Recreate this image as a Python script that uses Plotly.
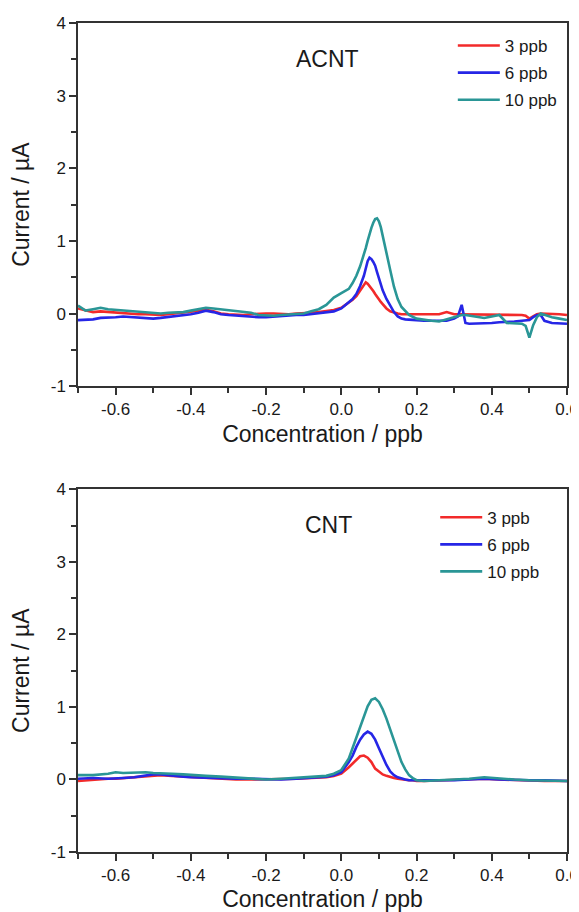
import plotly.graph_objects as go

# ---------------- data ----------------
x_top = [-0.70, -0.68, -0.66, -0.64, -0.62, -0.60, -0.58, -0.56, -0.54, -0.52,
         -0.50, -0.48, -0.46, -0.44, -0.42, -0.40, -0.38, -0.36, -0.34, -0.32,
         -0.30, -0.28, -0.26, -0.24, -0.22, -0.20, -0.18, -0.16, -0.14, -0.12,
         -0.10, -0.08, -0.06, -0.04, -0.02, 0.00, 0.02, 0.03, 0.04, 0.05,
         0.06, 0.065, 0.07, 0.075, 0.08, 0.085, 0.09, 0.095, 0.10, 0.105,
         0.11, 0.12, 0.13, 0.14, 0.15, 0.16, 0.17, 0.18, 0.20, 0.22,
         0.24, 0.26, 0.28, 0.30, 0.31, 0.32, 0.33, 0.34, 0.36, 0.38,
         0.40, 0.42, 0.44, 0.46, 0.48, 0.49, 0.50, 0.51, 0.52, 0.53,
         0.54, 0.56, 0.58, 0.60]

acnt_3ppb = [0.07, 0.04, 0.02, 0.03, 0.02, 0.02, 0.01, 0.0, -0.01, -0.01,
             -0.02, -0.02, -0.01, 0.0, 0.01, 0.02, 0.03, 0.05, 0.03, 0.0,
             -0.01, -0.02, -0.02, -0.01, 0.0, 0.0, 0.0, -0.01, -0.01, 0.0,
             0.0, 0.01, 0.02, 0.03, 0.05, 0.08, 0.15, 0.19, 0.24, 0.31,
             0.38, 0.43, 0.41, 0.38, 0.35, 0.31, 0.27, 0.23, 0.19, 0.16,
             0.13, 0.07, 0.03, 0.01, 0.0, -0.01, -0.01, -0.01, -0.01, -0.01,
             -0.01, -0.01, 0.02, -0.01, -0.01, -0.01, -0.01, -0.01, -0.01, -0.01,
             -0.01, -0.01, -0.01, -0.01, -0.02, -0.03, -0.07, -0.04, -0.01, 0.0,
             0.0, -0.01, -0.01, -0.02]

acnt_6ppb = [-0.09, -0.09, -0.08, -0.06, -0.06, -0.05, -0.04, -0.05, -0.06, -0.07,
             -0.07, -0.06, -0.05, -0.04, -0.02, -0.01, 0.01, 0.04, 0.02, -0.01,
             -0.02, -0.03, -0.04, -0.05, -0.05, -0.05, -0.04, -0.03, -0.02, -0.02,
             -0.02, -0.01, 0.0, 0.01, 0.03, 0.07, 0.15, 0.20, 0.27, 0.38,
             0.52, 0.62, 0.72, 0.77, 0.75, 0.71, 0.66, 0.57, 0.48, 0.39,
             0.32, 0.20, 0.10, 0.02, -0.04, -0.07, -0.08, -0.08, -0.09, -0.10,
             -0.10, -0.11, -0.10, -0.07, -0.04, 0.12, -0.13, -0.14, -0.14, -0.14,
             -0.13, -0.12, -0.12, -0.11, -0.10, -0.10, -0.09, -0.05, -0.02, -0.02,
             -0.10, -0.13, -0.14, -0.14]

acnt_10ppb = [0.11, 0.04, 0.06, 0.08, 0.06, 0.05, 0.04, 0.03, 0.02, 0.01,
              0.0, 0.0, 0.01, 0.01, 0.02, 0.04, 0.06, 0.08, 0.07, 0.06,
              0.05, 0.04, 0.02, 0.01, -0.02, -0.03, -0.03, -0.02, -0.01, -0.01,
              0.0, 0.03, 0.06, 0.12, 0.22, 0.28, 0.34, 0.42, 0.52, 0.65,
              0.80, 0.90, 1.00, 1.10, 1.18, 1.25, 1.30, 1.31, 1.27, 1.19,
              1.08, 0.83, 0.60, 0.37, 0.20, 0.09, 0.03, -0.02, -0.07, -0.09,
              -0.10, -0.11, -0.08, -0.05, -0.03, -0.02, -0.02, -0.03, -0.05, -0.06,
              -0.04, -0.02, -0.13, -0.14, -0.14, -0.17, -0.33, -0.16, -0.05, 0.0,
              -0.02, -0.05, -0.07, -0.09]

x_bot = [-0.70, -0.66, -0.62, -0.60, -0.58, -0.55, -0.52, -0.50, -0.48, -0.45,
         -0.42, -0.40, -0.36, -0.32, -0.28, -0.24, -0.20, -0.16, -0.12, -0.08,
         -0.04, -0.02, 0.00, 0.02, 0.03, 0.04, 0.05, 0.06, 0.07, 0.08,
         0.09, 0.10, 0.11, 0.12, 0.13, 0.14, 0.15, 0.16, 0.17, 0.18,
         0.19, 0.20, 0.22, 0.26, 0.30, 0.34, 0.38, 0.42, 0.46, 0.50,
         0.54, 0.58, 0.60]

cnt_3ppb = [-0.02, 0.0, 0.01, 0.01, 0.02, 0.03, 0.05, 0.06, 0.06, 0.05,
            0.04, 0.03, 0.02, 0.01, 0.0, 0.0, 0.0, 0.0, 0.01, 0.02,
            0.03, 0.05, 0.08, 0.17, 0.22, 0.28, 0.32, 0.33, 0.30, 0.24,
            0.15, 0.11, 0.07, 0.05, 0.03, 0.02, 0.01, 0.0, 0.0, -0.01,
            -0.01, -0.02, -0.02, -0.01, -0.01, 0.0, 0.01, 0.0, -0.01, -0.01,
            -0.02, -0.02, -0.02]

cnt_6ppb = [0.01, 0.02, 0.01, 0.01, 0.02, 0.03, 0.05, 0.07, 0.07, 0.06,
            0.04, 0.03, 0.02, 0.02, 0.01, 0.01, 0.0, 0.0, 0.01, 0.02,
            0.04, 0.06, 0.10, 0.24, 0.33, 0.45, 0.55, 0.62, 0.66, 0.63,
            0.55, 0.43, 0.31, 0.20, 0.11, 0.06, 0.03, 0.01, 0.0, -0.01,
            -0.01, -0.02, -0.02, -0.01, -0.01, 0.0, 0.01, 0.0, -0.01, -0.01,
            -0.01, -0.02, -0.02]

cnt_10ppb = [0.06, 0.06, 0.08, 0.10, 0.09, 0.10, 0.10, 0.09, 0.09, 0.08,
             0.07, 0.06, 0.05, 0.04, 0.03, 0.01, 0.0, 0.01, 0.02, 0.03,
             0.05, 0.08, 0.13, 0.29, 0.44, 0.59, 0.74, 0.89, 1.01, 1.10,
             1.12, 1.07, 0.97, 0.84, 0.69, 0.52, 0.38, 0.24, 0.14, 0.06,
             0.02, -0.01, -0.02, -0.01, -0.01, 0.01, 0.03, 0.01, 0.0, -0.01,
             -0.01, -0.02, -0.02]

series_names = ["3 ppb", "6 ppb", "10 ppb"]
panel_labels = ["ACNT", "CNT"]

x_tick_vals = [-0.6, -0.4, -0.2, 0.0, 0.2, 0.4, 0.6]
x_tick_text = ["-0.6", "-0.4", "-0.2", "0.0", "0.2", "0.4", "0.6"]
y_tick_vals = [-1, 0, 1, 2, 3, 4]
y_tick_text = ["-1", "0", "1", "2", "3", "4"]

# ---------------- styling ----------------
colors = ["#f22a2a", "#2626e6", "#2a9696"]
FONT = "Arial, Liberation Sans, sans-serif"
AXC = "#333333"
TXT = "#1a1a1a"

fig = go.Figure()

top_series = [acnt_3ppb, acnt_6ppb, acnt_10ppb]
bot_series = [cnt_3ppb, cnt_6ppb, cnt_10ppb]

for i, ys in enumerate(top_series):
    fig.add_trace(go.Scatter(x=x_top, y=ys, mode="lines", name=series_names[i],
                             line=dict(color=colors[i], width=2.6),
                             xaxis="x", yaxis="y", legend="legend",
                             legendgroup="t%d" % i))
for i, ys in enumerate(bot_series):
    fig.add_trace(go.Scatter(x=x_bot, y=ys, mode="lines", name=series_names[i],
                             line=dict(color=colors[i], width=2.6),
                             xaxis="x2", yaxis="y2", legend="legend2",
                             legendgroup="b%d" % i))


def xax(anchor):
    return dict(range=[-0.7, 0.6], tickmode="array", tickvals=x_tick_vals,
                ticktext=x_tick_text, ticks="outside", ticklen=7, tickwidth=1.5,
                tickcolor=AXC, showline=True, linecolor=AXC, linewidth=1.5,
                mirror=True, showgrid=False, zeroline=False, anchor=anchor,
                automargin=False,
                tickfont=dict(size=17, color=TXT),
                minor=dict(tickmode="linear", tick0=-0.7, dtick=0.1,
                           ticks="outside", ticklen=5, tickwidth=1.5,
                           tickcolor=AXC, showgrid=False),
                title=dict(text="Concentration / ppb",
                           font=dict(size=23, color=TXT), standoff=8))


def yax(anchor, domain):
    return dict(range=[-1, 4], domain=domain, tickmode="array",
                tickvals=y_tick_vals, ticktext=y_tick_text, ticks="outside",
                ticklen=7, tickwidth=1.5, tickcolor=AXC, showline=True,
                linecolor=AXC, linewidth=1.5, mirror=True, showgrid=False,
                zeroline=False, anchor=anchor, automargin=False,
                tickfont=dict(size=17, color=TXT),
                minor=dict(tickmode="linear", tick0=-1, dtick=0.5,
                           ticks="outside", ticklen=5, tickwidth=1.5,
                           tickcolor=AXC, showgrid=False),
                title=dict(text="Current / µA",
                           font=dict(size=23, color=TXT), standoff=15))


leg_common = dict(font=dict(size=17, color=TXT, family=FONT),
                  bgcolor="rgba(0,0,0,0)", borderwidth=0,
                  xanchor="left", yanchor="top", tracegroupgap=2,
                  itemwidth=42,
                  itemclick=False, itemdoubleclick=False)

# the page body has an 8 px margin, so the figure is sized to fit the window
fig.update_layout(
    width=571, height=904,
    margin=dict(l=70, r=12, t=15, b=60),
    paper_bgcolor="white", plot_bgcolor="white",
    font=dict(family=FONT, color=TXT),
    showlegend=True,
    xaxis=xax("y"),
    yaxis=yax("x", [0.5619, 1.0]),
    xaxis2=xax("y2"),
    yaxis2=yax("x2", [0.0, 0.4373]),
    legend=dict(x=0.7665, y=0.994, **leg_common),
    legend2=dict(x=0.7305, y=0.425, **leg_common),
    annotations=[
        dict(text=panel_labels[0], x=-0.037, y=3.51, xref="x", yref="y",
             showarrow=False, font=dict(size=23, color=TXT)),
        dict(text=panel_labels[1], x=-0.035, y=3.51, xref="x2", yref="y2",
             showarrow=False, font=dict(size=23, color=TXT)),
    ],
)

fig.write_html("out.html")
